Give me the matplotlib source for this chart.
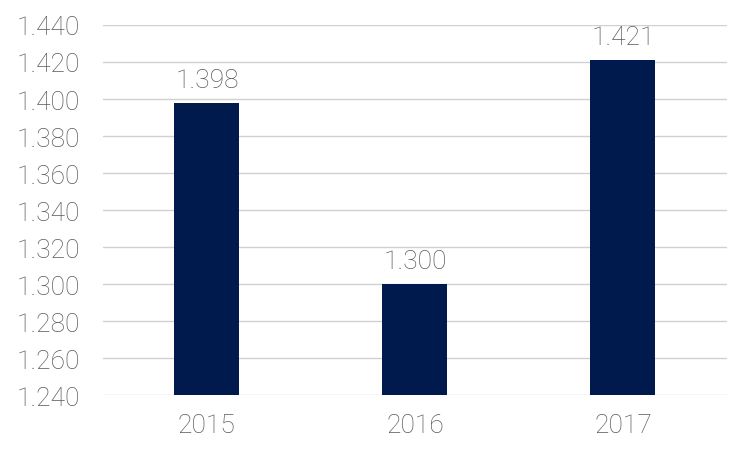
import matplotlib.pyplot as plt
from matplotlib.ticker import FuncFormatter, MultipleLocator

years = ['2015', '2016', '2017']
values = [1398, 1300, 1421]

bar_color = '#001a4d'
text_color = '#595959'


def dot_thousands(v, pos=None):
    return '{:,.0f}'.format(v).replace(',', '.')


plt.rcParams['font.family'] = ['Roboto', 'DejaVu Sans']
plt.rcParams['font.weight'] = 'light'

fig = plt.figure(figsize=(7.51, 4.60), dpi=100)
ax = fig.add_axes([0.137, 0.139, 0.831, 0.8045])

x = range(len(years))
ax.bar(x, values, width=0.3125, color=bar_color, zorder=2)

for i, v in zip(x, values):
    ax.text(i, v + 6, dot_thousands(v), ha='center', va='bottom',
            fontsize=19, color=text_color, fontweight='light')

ax.set_xlim(-0.5, 2.5)
ax.set_ylim(1240, 1440)
ax.yaxis.set_major_locator(MultipleLocator(20))
ax.yaxis.set_major_formatter(FuncFormatter(dot_thousands))
ax.set_xticks(list(x))
ax.set_xticklabels(years)

ax.grid(axis='y', color='#d0d0d0', linewidth=1, zorder=0)
for s in ax.spines.values():
    s.set_visible(False)
ax.tick_params(length=0, labelsize=19, colors=text_color)
ax.tick_params(axis='y', pad=16.5)
ax.tick_params(axis='x', pad=13)

fig.savefig('out.png', dpi=100)
